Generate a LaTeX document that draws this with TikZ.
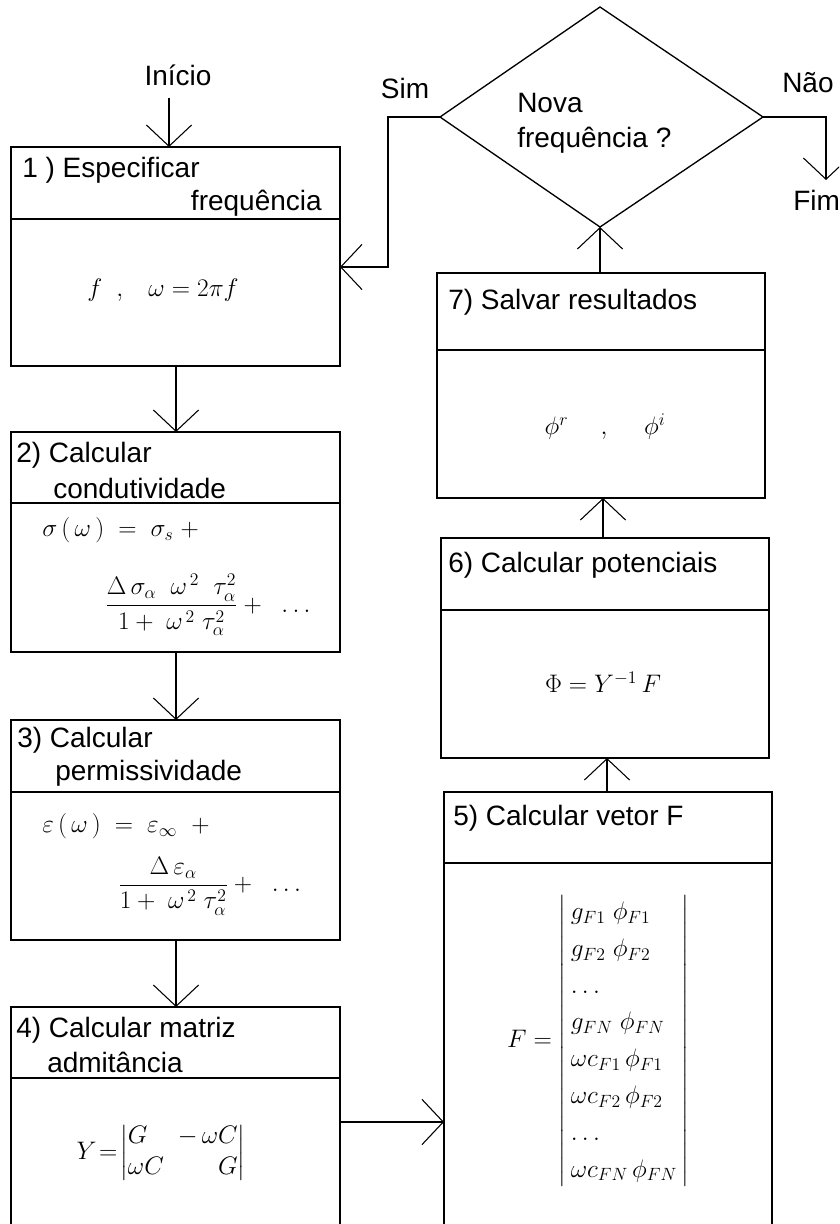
\RequirePackage{fix-cm}
\documentclass[tikz,border=0pt]{standalone}
\usepackage{amsmath}
\usepackage{fontspec}
\setmainfont{Liberation Sans}
\usetikzlibrary{arrows.meta}
\tikzset{
  frame/.style={line width=1pt},
  flow/.style={line width=0.8pt,-{Straight Barb[length=16pt,width=34pt,line width=0.8pt]}},
  title/.style={anchor=west,inner sep=0pt,font=\fontsize{21}{25}\selectfont},
  formula/.style={inner sep=0pt,font=\fontsize{19}{23}\selectfont},
}
\begin{document}
\begin{tikzpicture}[x=0.75pt,y=-0.75pt]
    \useasboundingbox (0,0) rectangle (839,1224);
    \clip (0,0) rectangle (839,1224);

    % Boxes: left/top/right/bottom/divider
    \foreach \l/\t/\r/\b/\d in {11/147/340/366/219, 11/432/340/652/503,
        11/720/340/940/792, 11/1007/340/1240/1078, 437/273/765/498/350,
        441/538/769/758/610, 444/792/772/1240/863}{
        \draw[frame] (\l,\t) rectangle (\r,\b);
        \draw[frame] (\l,\d) -- (\r,\d);
    }

    % Decision
    \coordinate (dt) at (600,7);
    \coordinate (dl) at (440,117);
    \coordinate (dr) at (763,117);
    \coordinate (db) at (600,227);
    \draw[frame] (dt) -- (dr) -- (db) -- (dl) -- cycle;

    \coordinate (ini) at (169,98);
    \coordinate (b1n) at (169,147);
    \coordinate (b1e) at (340,267);
    \coordinate (b1s) at (176,366);
    \coordinate (b2n) at (176,432);
    \coordinate (b2s) at (176,652);
    \coordinate (b3n) at (176,720);
    \coordinate (b3s) at (176,940);
    \coordinate (b4n) at (176,1007);
    \coordinate (b4e) at (340,1122);
    \coordinate (b5w) at (444,1122);
    \coordinate (b5n) at (607,792);
    \coordinate (b6s) at (607,758);
    \coordinate (b6n) at (603,538);
    \coordinate (b7s) at (603,498);
    \coordinate (b7n) at (600,273);
    \coordinate (sim) at (388,117);
    \coordinate (nao) at (826,117);
    \coordinate (fim) at (826,180);

    \draw[flow] (ini) -- (b1n);
    \draw[flow] (b1s) -- (b2n);
    \draw[flow] (b2s) -- (b3n);
    \draw[flow] (b3s) -- (b4n);
    \draw[flow] (b4e) -- (b5w);
    \draw[flow] (b5n) -- (b6s);
    \draw[flow] (b6n) -- (b7s);
    \draw[flow] (b7n) -- (db);
    \draw[flow] (dl) -- (sim) |- (b1e);
    \draw[flow] (dr) -- (nao) -- (fim);

    % Labels
    \node[title,anchor=center] (tini) at (178,75) {Início};
    \node[title,anchor=center] (tsim) at (405,88) {Sim};
    \node[title] (tnao) at (782,83) {Não};
    \node[title] (tfim) at (793,200) {Fim};
    \node[title] (q1) at (517,103) {Nova};
    \node[title] (q2) at (517,140) {frequência ?};

    \node[title] (h1a) at (22,170) {1 ) Especificar};
    \node[title,anchor=east] (h1b) at (322,203) {frequência};
    \node[title] (h2a) at (16,455) {2) Calcular};
    \node[title] (h2b) at (53,488) {condutividade};
    \node[title] (h3a) at (17,740) {3) Calcular};
    \node[title] (h3b) at (55,773) {permissividade};
    \node[title] (h4a) at (16,1030) {4) Calcular matriz};
    \node[title] (h4b) at (47,1062) {admitância};
    \node[title] (h5) at (453,818) {5) Calcular vetor F};
    \node[title] (h6) at (448,565) {6) Calcular potenciais};
    \node[title] (h7) at (448,302) {7) Salvar resultados};

    % Formulas
    \node[formula] (f1) at (163,290) {$f\;\;,\;\;\;\omega=2\pi f$};
    \node[formula,anchor=west] (f2a) at (42,530)
        {$\sigma\,(\,\omega\,)\;=\;\sigma_s\;+$};
    \node[formula,anchor=west] (f2b) at (105,605)
        {$\dfrac{\Delta\,\sigma_\alpha\;\;\omega^{\,2}\;\;\tau_\alpha^2}{1+\;\omega^{\,2}\;\tau_\alpha^2}+\;\;\ldots$};
    \node[formula,anchor=west] (f3a) at (42,826)
        {$\varepsilon\,(\,\omega\,)\;=\;\varepsilon_\infty\;\;+$};
    \node[formula,anchor=west] (f3b) at (118,886)
        {$\dfrac{\Delta\,\varepsilon_\alpha}{1+\;\omega^{\,2}\;\tau_\alpha^2}+\;\;\ldots$};
    \node[formula] (f4) at (161,1153)
        {$Y\!=\!\left|\begin{array}{@{}l@{\;\;}r@{}}G&-\,\omega C\\\omega C&G\end{array}\right|$};
    \node[formula] (f5) at (598,1041)
        {$F=\renewcommand{\arraystretch}{1.2}\left|\begin{array}{@{\,}l@{\,}}
          g_{F1}\;\phi_{F1}\\ g_{F2}\;\phi_{F2}\\ \ldots\\ g_{FN}\;\phi_{FN}\\
          \omega c_{F1}\,\phi_{F1}\\ \omega c_{F2}\,\phi_{F2}\\ \ldots\\
          \omega c_{FN}\,\phi_{FN}\end{array}\right|$};
    \node[formula] (f6) at (603,682) {$\Phi=Y^{-1}\,F$};
    \node[formula] (f7) at (605,427) {$\phi^r\quad\;,\quad\;\phi^i$};
\end{tikzpicture}
\end{document}
